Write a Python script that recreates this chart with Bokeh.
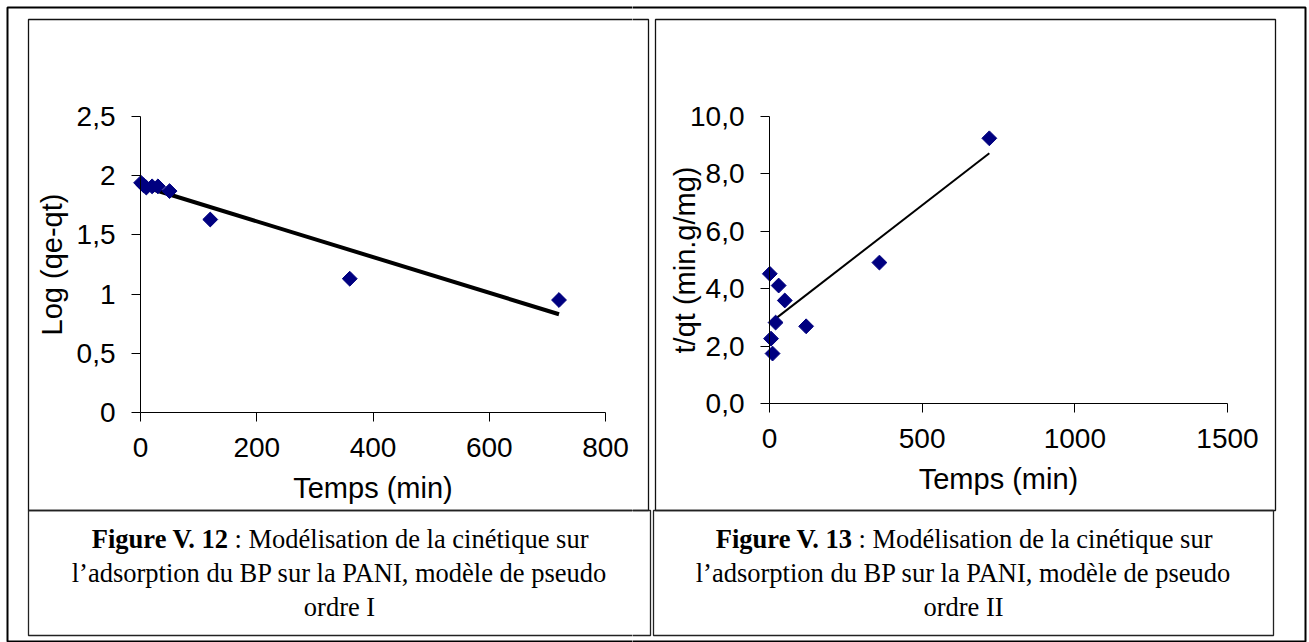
import math
from bokeh.plotting import figure
from bokeh.layouts import row
from bokeh.models import Range1d, FixedTicker, BoxAnnotation, Label
from bokeh.embed import file_html
from bokeh.resources import INLINE

# ---- pseudo-first-order model ----
t_first = [1, 5, 10, 20, 30, 50, 120, 360, 720]
log_qe_qt = [1.94, 1.92, 1.90, 1.91, 1.91, 1.87, 1.63, 1.13, 0.95]
fit_first_t = [1, 720]
fit_first_y = [1.915, 0.83]

# ---- pseudo-second-order model ----
t_second = [1, 5, 10, 20, 30, 50, 120, 360, 720]
t_over_qt = [4.52, 2.26, 1.74, 2.82, 4.11, 3.59, 2.69, 4.91, 9.24]
fit_second_t = [1, 720]
fit_second_y = [2.80, 8.72]

# ---- ticks ----
x1_ticks = [0, 200, 400, 600, 800]
x1_labels = ["0", "200", "400", "600", "800"]
y1_ticks = [0, 0.5, 1, 1.5, 2, 2.5]
y1_labels = ["0", "0,5", "1", "1,5", "2", "2,5"]
x2_ticks = [0, 500, 1000, 1500]
x2_labels = ["0", "500", "1000", "1500"]
y2_ticks = [0, 2, 4, 6, 8, 10]
y2_labels = ["0,0", "2,0", "4,0", "6,0", "8,0", "10,0"]

captions = [
    ("Figure V. 12", ": Modélisation de la cinétique sur",
     "l’adsorption du BP sur la PANI, modèle de pseudo", "ordre I"),
    ("Figure V. 13", ": Modélisation de la cinétique sur",
     "l’adsorption du BP sur la PANI, modèle de pseudo", "ordre II"),
]

PAGE_W, PAGE_H = 1309, 642
SPLIT = 632
SANS = "Liberation Sans"
SERIF = "Liberation Serif"
MARKER = "#000080"
CAPTION_SIZE = "26.5px"
CAPTION_LINES_Y = (538, 572, 606)

# frame boxes in page pixels: (left, top, right, bottom, width, color)
BOXES = [
    (7, 7, 1305, 641, 2, "#000000"),
    (28, 19, 648, 510, 1.3, "#111111"),
    (655, 19, 1275, 510, 1.3, "#111111"),
    (28, 510, 650, 635, 1.3, "#222222"),
    (653, 510, 1273, 635, 1.3, "#222222"),
]


def add_boxes(p, x_off):
    for l, t, r, b, w, c in BOXES:
        p.add_layout(BoxAnnotation(
            left=l - x_off, right=r - x_off, top=t, bottom=b,
            left_units="canvas", right_units="canvas",
            top_units="canvas", bottom_units="canvas",
            fill_alpha=0, fill_color=None, line_color=c, line_alpha=1.0,
            line_width=w))


def add_text(p, x, y, text, font, size, align="center", style="normal"):
    p.add_layout(Label(x=x, y=y, x_units="canvas", y_units="canvas", text=text,
                       text_align=align, text_baseline="middle", text_font=font,
                       text_font_size=size, text_font_style=style, text_color="#000000"))


def add_caption(p, x_off, center, cap):
    bold, rest, line2, line3 = cap
    y1, y2, y3 = CAPTION_LINES_Y
    split = center - 111
    add_text(p, split - x_off, y1, bold, SERIF, CAPTION_SIZE, "right", "bold")
    add_text(p, split + 6 - x_off, y1, rest, SERIF, CAPTION_SIZE, "left")
    add_text(p, center - x_off, y2, line2, SERIF, CAPTION_SIZE)
    add_text(p, center - x_off, y3, line3, SERIF, CAPTION_SIZE)


def style_axis(ax, ticks, labels, bounds):
    ax.ticker = FixedTicker(ticks=ticks)
    ax.major_label_overrides = {t: s for t, s in zip(ticks, labels)}
    ax.bounds = bounds
    ax.fixed_location = 0
    ax.axis_line_color = "#000000"
    ax.major_tick_line_color = "#000000"
    ax.major_tick_in = 0
    ax.major_tick_out = 9
    ax.minor_tick_line_color = None
    ax.major_label_text_font = SANS
    ax.major_label_text_font_size = "28px"
    ax.major_label_text_color = "#000000"
    ax.axis_label_text_font = SANS
    ax.axis_label_text_font_size = "29px"
    ax.axis_label_text_font_style = "normal"
    ax.axis_label_text_color = "#000000"


def make_panel(width, x_off, x0_px, x1_px, x_span, y0_px, y1_px, y_span):
    """Frame fills the whole canvas; ranges are chosen so that the axis
    origin and end fall on the given page pixels."""
    ax = (x1_px - x0_px) / x_span
    ay = (y0_px - y1_px) / y_span
    xr = Range1d(-(x0_px - x_off) / ax, (x_off + width - x0_px) / ax)
    yr = Range1d(-(PAGE_H - y0_px) / ay, y0_px / ay)
    p = figure(width=width, height=PAGE_H, x_range=xr, y_range=yr,
               output_backend="svg", toolbar_location=None,
               min_border_left=0, min_border_right=0,
               min_border_top=0, min_border_bottom=0)
    p.outline_line_color = None
    p.grid.visible = False
    p.background_fill_color = "#ffffff"
    p.border_fill_color = "#ffffff"
    return p


# ---- left chart: Log(qe-qt) vs time ----
p1 = make_panel(SPLIT, 0, 140, 605, 800, 412, 116, 2.5)
style_axis(p1.xaxis[0], x1_ticks, x1_labels, (0, 800))
style_axis(p1.yaxis[0], y1_ticks, y1_labels, (0, 2.5))
p1.yaxis[0].axis_label = "Log (qe-qt)"
p1.xaxis[0].axis_label = "Temps (min)"
p1.yaxis[0].major_label_standoff = 16
p1.yaxis[0].axis_label_standoff = 6
p1.xaxis[0].major_label_standoff = 16
p1.xaxis[0].axis_label_standoff = 12
p1.line(fit_first_t, fit_first_y, line_color="#000000", line_width=4)
p1.scatter(t_first, log_qe_qt, marker="square", size=10.5, angle=math.pi / 4,
           fill_color=MARKER, line_color=MARKER)
add_boxes(p1, 0)
add_caption(p1, 0, 339, captions[0])

# ---- right chart: t/qt vs time ----
p2 = make_panel(PAGE_W - SPLIT, SPLIT, 769, 1227, 1500, 403, 116, 10)
style_axis(p2.xaxis[0], x2_ticks, x2_labels, (0, 1500))
style_axis(p2.yaxis[0], y2_ticks, y2_labels, (0, 10))
p2.yaxis[0].axis_label = "t/qt (min.g/mg)"
p2.xaxis[0].axis_label = "Temps (min)"
p2.yaxis[0].major_label_standoff = 16
p2.yaxis[0].axis_label_standoff = -14
p2.xaxis[0].major_label_standoff = 16
p2.xaxis[0].axis_label_standoff = 12
p2.line(fit_second_t, fit_second_y, line_color="#000000", line_width=2)
p2.scatter(t_second, t_over_qt, marker="square", size=10.5, angle=math.pi / 4,
           fill_color=MARKER, line_color=MARKER)
add_boxes(p2, SPLIT)
add_caption(p2, SPLIT, 963, captions[1])

layout = row(p1, p2, spacing=0)
open("out.html", "w").write(file_html(layout, INLINE))
